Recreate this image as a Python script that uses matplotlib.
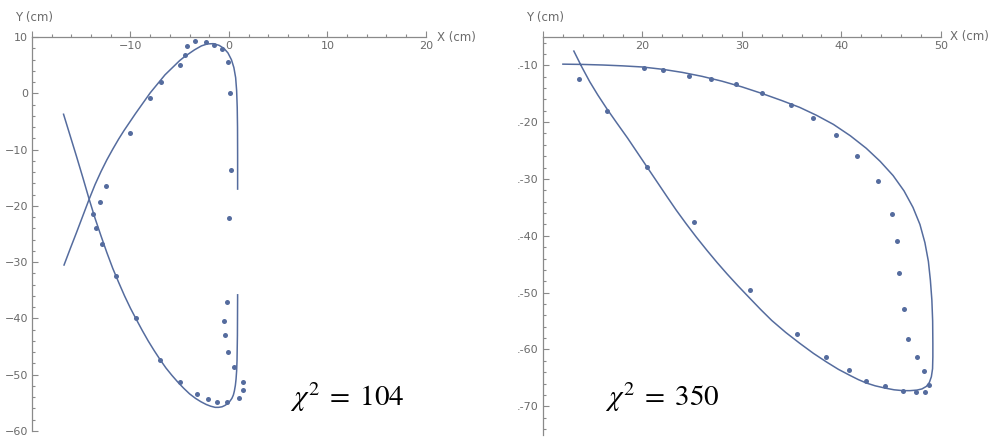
import matplotlib.pyplot as plt
from matplotlib.ticker import FixedLocator, FixedFormatter, MultipleLocator

# --- left panel: measured points (cm) ---
left_x = [-4.26, -3.4, -2.36, -1.49, -0.71, -4.5, -5.0, -0.13, -6.9, -8.0,
          0.13, -10.0, 0.24, -12.5, -13.1, -13.8, 0.0, -13.5, -12.9, -11.5,
          -9.4, -7.0, -5.0, -3.2, -2.1, -1.2, -0.23, 0.98, 1.38, 1.38,
          0.54, -0.13, -0.37, -0.47, -0.23]
left_y = [8.4, 9.3, 9.2, 8.6, 7.9, 6.8, 5.1, 5.5, 2.0, -0.8,
          0.0, -7.0, -13.6, -16.4, -19.3, -21.4, -22.1, -23.9, -26.8, -32.5,
          -39.9, -47.4, -51.3, -53.5, -54.4, -54.8, -54.8, -54.1, -52.8, -51.3,
          -48.7, -45.9, -42.9, -40.4, -37.1]

# left panel: fitted curve, two branches
fit_a_x = [-16.75, -16.1, -15.5, -14.85, -14.2, -13.6, -13.0, -12.4, -11.8, -11.2,
           -10.66, -9.5, -8.0, -6.5, -5.0, -4.5, -3.5, -2.8, -2.2, -1.6,
           -1.0, -0.5, -0.1, 0.25, 0.5, 0.68, 0.78, 0.84, 0.87, 0.88, 0.88]
fit_a_y = [-30.5, -27.5, -24.8, -21.8, -18.8, -16.2, -13.9, -11.8, -9.9, -8.1,
           -6.6, -3.6, 0.1, 3.3, 5.85, 6.55, 7.75, 8.45, 8.8, 8.85,
           8.55, 8.0, 7.2, 6.0, 4.6, 2.8, 0.5, -2.5, -6.0, -11.0, -17.0]
fit_b_x = [-16.8, -16.15, -15.5, -14.85, -14.2, -13.6, -13.0, -12.4, -11.8, -11.2,
           -10.6, -10.0, -9.4, -8.8, -8.2, -7.6, -7.0, -6.4, -5.8, -5.2,
           -4.6, -4.0, -3.4, -2.85, -2.3, -1.85, -1.4, -1.05, -0.7, -0.4,
           -0.1, 0.1, 0.3, 0.45, 0.55, 0.65, 0.72, 0.78, 0.82, 0.86, 0.88]
fit_b_y = [-3.7, -7.4, -11.1, -14.9, -18.8, -22.2, -25.3, -28.3, -31.1, -33.6,
           -36.0, -38.2, -40.2, -42.15, -44.0, -45.7, -47.3, -48.8, -50.1, -51.3,
           -52.4, -53.4, -54.2, -54.8, -55.3, -55.6, -55.8, -55.8, -55.7, -55.45,
           -55.1, -54.7, -54.2, -53.6, -52.9, -51.9, -50.8, -49.3, -47.5, -43.0, -35.8]

# --- right panel: measured points (cm) ---
right_x = [13.6, 16.4, 20.5, 25.2, 20.2, 22.1, 24.7, 26.9, 29.4, 32.0,
           34.9, 37.1, 39.5, 41.6, 43.7, 45.1, 45.6, 45.8, 46.3, 46.7,
           47.6, 48.3, 48.8, 48.4, 47.5, 46.2, 44.4, 42.5, 40.8, 38.5,
           35.5, 30.8]
right_y = [-12.4, -18.1, -27.9, -37.6, -10.5, -10.9, -11.8, -12.4, -13.3, -14.8,
           -17.0, -19.2, -22.2, -25.9, -30.3, -36.2, -40.9, -46.5, -52.9, -58.2,
           -61.4, -63.8, -66.2, -67.5, -67.5, -67.3, -66.5, -65.6, -63.6, -61.4,
           -57.3, -49.6]

fit_r_x = [12.0, 14.0, 16.0, 18.0, 20.0, 22.0, 24.0, 26.0, 28.0, 30.0,
           32.0, 34.0, 35.8, 37.5, 39.2, 40.9, 42.5, 43.9, 45.2, 46.3,
           47.2, 47.9, 48.4, 48.75, 48.95, 49.1, 49.18, 49.2, 49.2, 49.17,
           49.05, 48.85, 48.55, 48.1, 47.6, 46.9, 46.2, 45.3, 44.4, 43.4,
           42.5, 41.7, 40.9, 39.7, 38.5, 37.2, 35.8, 34.4, 33.0, 31.9,
           30.8, 29.6, 28.5, 27.5, 26.5, 25.4, 24.4, 23.4, 22.5, 21.5,
           20.5, 19.5, 18.5, 17.4, 16.4, 15.5, 14.7, 13.9, 13.1]
fit_r_y = [-9.8, -9.85, -9.95, -10.1, -10.3, -10.7, -11.25, -11.95, -12.8, -13.8,
           -14.95, -16.2, -17.4, -18.8, -20.4, -22.4, -24.6, -26.9, -29.4, -32.1,
           -35.0, -38.0, -41.2, -44.5, -47.8, -51.3, -55.0, -59.0, -61.3, -63.4,
           -64.8, -65.8, -66.5, -66.95, -67.15, -67.25, -67.25, -67.1, -66.8, -66.4,
           -65.9, -65.3, -64.6, -63.5, -62.2, -60.7, -58.9, -57.0, -54.9, -53.0,
           -51.0, -48.8, -46.7, -44.7, -42.6, -40.2, -37.9, -35.5, -33.2, -30.6,
           -28.0, -25.4, -22.8, -20.1, -17.6, -15.2, -12.9, -10.3, -7.5]

chi_left = "104"
chi_right = "350"

plt.rcParams['mathtext.fontset'] = 'stix'

BLUE = '#556c9e'
AXIS = '#8a8a8a'
TEXT = '#6a6a6a'


def style_axes(ax, xlim, ylim, xticks, xlabels, yticks, ylabels):
    """Mathematica-like axes: origin at the top-left corner."""
    ax.set_xlim(*xlim)
    ax.set_ylim(*ylim)
    ax.spines['right'].set_visible(False)
    ax.spines['top'].set_visible(False)
    ax.spines['bottom'].set_position(('axes', 1.0))
    for side in ('left', 'bottom'):
        ax.spines[side].set_color(AXIS)
        ax.spines[side].set_linewidth(0.9)

    ax.xaxis.set_major_locator(FixedLocator(xticks))
    ax.xaxis.set_major_formatter(FixedFormatter(xlabels))
    ax.yaxis.set_major_locator(FixedLocator(yticks))
    ax.yaxis.set_major_formatter(FixedFormatter(ylabels))
    ax.xaxis.set_minor_locator(MultipleLocator(2))
    ax.yaxis.set_minor_locator(MultipleLocator(2))

    ax.tick_params(which='both', direction='in', color=AXIS, width=0.8,
                   labelsize=8, labelcolor=TEXT)
    ax.tick_params(which='major', length=4)
    ax.tick_params(which='minor', length=2.5)
    ax.tick_params(axis='x', pad=3)
    ax.tick_params(axis='y', pad=3)


fig = plt.figure(figsize=(9.92, 4.48), dpi=100)

# left panel
ax1 = fig.add_axes([0.0323, 0.038, 0.397, 0.879])
style_axes(ax1, (-20, 20), (-60, 10),
           [-20, -10, 0, 10, 20], ['', '\u221210', '0', '10', '20'],
           [10, 0, -10, -20, -30, -40, -50, -60],
           ['10', '0', '\u221210', '\u221220', '\u221230', '\u221240', '\u221250', '\u221260'])
ax1.plot(fit_a_x, fit_a_y, color=BLUE, lw=1.1, solid_joinstyle='round')
ax1.plot(fit_b_x, fit_b_y, color=BLUE, lw=1.1, solid_joinstyle='round')
ax1.scatter(left_x, left_y, s=13, color=BLUE, zorder=3, linewidths=0)
ax1.text(1.028, 1.0, 'X (cm)', transform=ax1.transAxes, ha='left', va='center',
         fontsize=8.5, color=TEXT)
ax1.text(0.005, 1.051, 'Y (cm)', transform=ax1.transAxes, ha='center', va='center',
         fontsize=8.5, color=TEXT)

# right panel
ax2 = fig.add_axes([0.5474, 0.0297, 0.401, 0.888])
style_axes(ax2, (10, 50), (-75, -5),
           [10, 20, 30, 40, 50], ['', '20', '30', '40', '50'],
           [-10, -20, -30, -40, -50, -60, -70],
           ['.-10', '.-20', '.-30', '.-40', '.-50', '.-60', '.-70'])
ax2.plot(fit_r_x, fit_r_y, color=BLUE, lw=1.1, solid_joinstyle='round')
ax2.scatter(right_x, right_y, s=13, color=BLUE, zorder=3, linewidths=0)
ax2.text(1.023, 1.0, 'X (cm)', transform=ax2.transAxes, ha='left', va='center',
         fontsize=8.5, color=TEXT)
ax2.text(0.005, 1.048, 'Y (cm)', transform=ax2.transAxes, ha='center', va='center',
         fontsize=8.5, color=TEXT)

# chi-squared annotations
fig.text(0.35, 0.094, r'$\chi^2\;=\;' + chi_left + '$', ha='center', va='baseline',
         fontsize=21, color='black')
fig.text(0.668, 0.094, r'$\chi^2\;=\;' + chi_right + '$', ha='center', va='baseline',
         fontsize=21, color='black')

fig.savefig('out.png', dpi=100)
